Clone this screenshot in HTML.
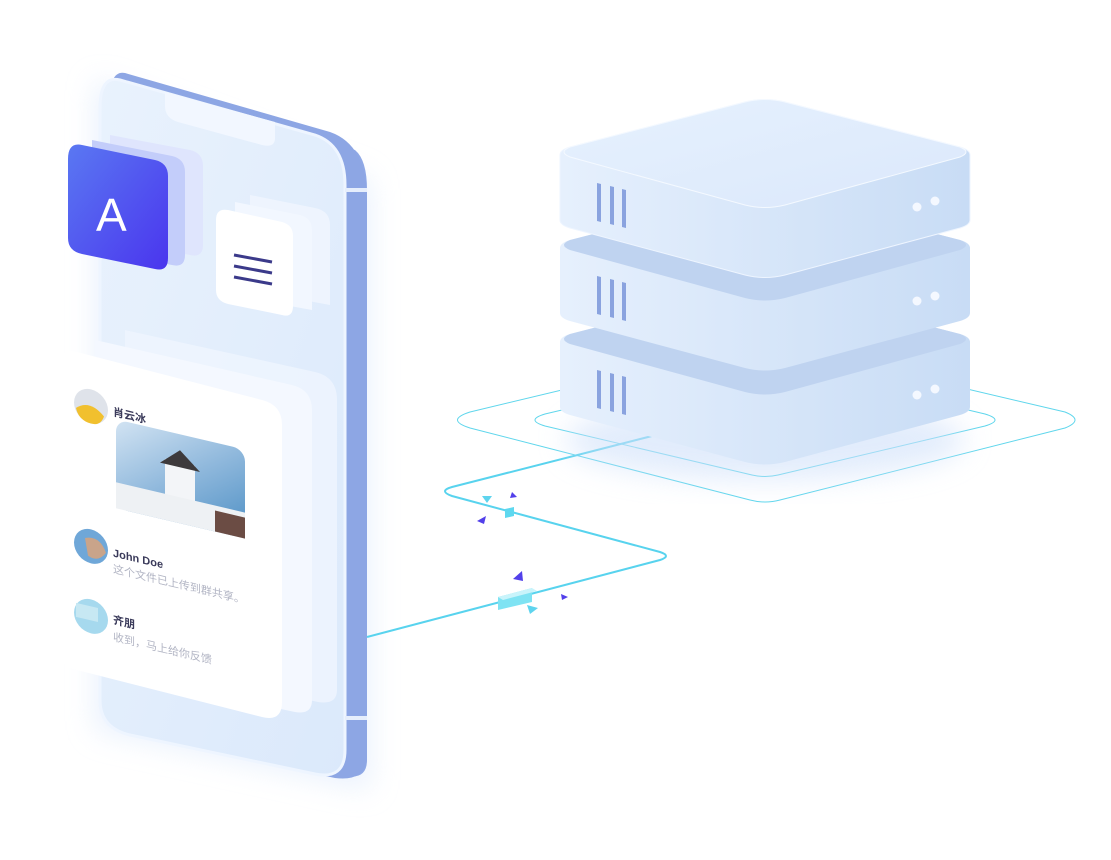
<!DOCTYPE html>
<html><head><meta charset="utf-8"><style>
html,body{margin:0;padding:0;background:#fff;width:1111px;height:860px;overflow:hidden}
svg{display:block}
text{font-family:"Liberation Sans","Noto Sans CJK SC",sans-serif}
</style></head><body>
<svg width="1111" height="860" viewBox="0 0 1111 860" xmlns="http://www.w3.org/2000/svg">
<defs>
<linearGradient id="face" x1="0" y1="0" x2="1" y2="1"><stop offset="0" stop-color="#e9f2fd"/><stop offset="1" stop-color="#dbe9fb"/></linearGradient>
<linearGradient id="A" x1="0" y1="0" x2="1" y2="1"><stop offset="0" stop-color="#5a78f2"/><stop offset="1" stop-color="#4a35ee"/></linearGradient>
<linearGradient id="front" x1="0" y1="0" x2="1" y2="0"><stop offset="0" stop-color="#e6f0fd"/><stop offset="1" stop-color="#c8dcf5"/></linearGradient>
<linearGradient id="top" x1="0" y1="0" x2="1" y2="1"><stop offset="0" stop-color="#e6f1fe"/><stop offset="1" stop-color="#dbe8fb"/></linearGradient>
<linearGradient id="pic" x1="0" y1="0" x2="1" y2="1"><stop offset="0" stop-color="#d3e4f3"/><stop offset="0.5" stop-color="#8fb8dc"/><stop offset="1" stop-color="#4d8fc4"/></linearGradient>
<filter id="blur" x="-30%" y="-30%" width="160%" height="160%"><feGaussianBlur stdDeviation="14"/></filter>
</defs>

<!-- phone glow -->
<path d="M95 80 L370 180 L370 790 L95 730 Z" fill="#dbe8fb" opacity="0.6" filter="url(#blur)"/>
<!-- phone body (side) -->
<path d="M130 75 Q118 72 122 85 L355 150 Q367 160 367 190 L367 760 Q367 780 345 776 L330 776 Z" fill="#8fa8e6"/>
<path d="M125 73 L330 132 Q367 145 367 200 L367 755 Q367 782 335 778 L130 735 Q110 730 110 700 L110 100 Q110 70 125 73 Z" fill="#8da6e4"/>
<!-- phone face -->
<path d="M120 80 L315 135 Q345 145 345 185 L345 750 Q345 780 315 774 L130 735 Q100 728 100 700 L100 108 Q100 75 120 80 Z" fill="url(#face)" stroke="#eef5ff" stroke-width="3"/>
<rect x="345" y="188" width="22" height="4" fill="#e6eefc"/>
<rect x="345" y="716" width="22" height="4" fill="#e6eefc"/>
<!-- notch -->
<path d="M165 92 L275 122 L275 138 Q275 148 262 145 L178 122 Q165 118 165 106 Z" fill="#f2f7ff"/>

<!-- A card layers -->
<path d="M110 135 L190 150 Q203 153 203 166 L203 245 Q203 258 190 255 L110 240 Z" fill="#dfe5fd"/>
<path d="M92 140 L172 156 Q185 159 185 172 L185 255 Q185 268 172 265 L92 250 Z" fill="#c3cdfa"/>
<path d="M82 145 L155 160 Q168 163 168 176 L168 258 Q168 272 155 269 L82 254 Q68 251 68 238 L68 159 Q68 142 82 145 Z" fill="url(#A)"/>
<text x="96" y="231" font-size="46" fill="#fff" transform="skewY(0)">A</text>

<!-- menu card layers -->
<path d="M250 195 L315 208 Q330 211 330 225 L330 305 L250 290 Z" fill="#eef4fe"/>
<path d="M235 202 L300 215 Q312 218 312 230 L312 310 L235 296 Z" fill="#f2f7ff"/>
<path d="M228 210 L282 222 Q293 225 293 236 L293 306 Q293 318 282 315 L228 304 Q216 301 216 290 L216 220 Q216 208 228 210 Z" fill="#fff"/>
<g stroke="#3b3a8a" stroke-width="3"><line x1="234" y1="255" x2="272" y2="262"/><line x1="234" y1="266" x2="272" y2="273"/><line x1="234" y1="277" x2="272" y2="284"/></g>

<!-- chat card layers -->
<path d="M125 330 L315 372 Q337 377 337 400 L337 690 Q337 705 318 702 L125 660 Z" fill="#edf4fe" opacity="0.9"/>
<path d="M95 340 L292 385 Q312 390 312 410 L312 700 Q312 715 295 712 L95 670 Z" fill="#f4f8ff"/>
<path d="M77 352 L262 400 Q282 405 282 425 L282 702 Q282 722 262 717 L77 670 Q57 665 57 645 L57 372 Q57 347 77 352 Z" fill="#fff"/>

<g transform="matrix(1 0.235 0 1 0 0)">
 <circle cx="91" cy="385" r="17" fill="#dfe3ea"/>
 <path d="M76 390 Q90 378 104 392 Q100 404 88 402 Q78 400 76 390Z" fill="#f1c02e"/>
 <text x="113" y="389" font-size="11" font-weight="bold" fill="#3a3a5a">肖云冰</text>
 <rect x="116" y="392" width="129" height="89" rx="12" fill="url(#pic)"/>
 <rect x="165" y="420" width="30" height="40" fill="#f3f5f8"/>
 <path d="M160 425 L180 408 L200 425 Z" fill="#3d3a3c"/>
 <rect x="116" y="455" width="129" height="26" fill="#eef1f4"/>
 <rect x="215" y="460" width="30" height="21" fill="#6b4c44"/>
 <circle cx="91" cy="525" r="17" fill="#6fa7d8"/>
 <path d="M85 518 Q100 512 106 528 Q98 540 88 535Z" fill="#c9a48a"/>
 <text x="113" y="530" font-size="11" font-weight="bold" fill="#3a3a5a">John Doe</text>
 <text x="113" y="546" font-size="11" fill="#b2b5c4">这个文件已上传到群共享。</text>
 <circle cx="91" cy="595" r="17" fill="#a6d9ee"/>
 <rect x="76" y="585" width="22" height="14" fill="#c7e8f3"/>
 <text x="113" y="597" font-size="11" font-weight="bold" fill="#3a3a5a">齐朋</text>
 <text x="113" y="614" font-size="11" fill="#b2b5c4">收到，马上给你反馈</text>
</g>

<!-- platform outlines -->
<g fill="none" stroke="#5fd6ec" stroke-width="1">
 <path d="M470 412 L750 345 Q765 341 780 345 L1065 412 Q1085 420 1065 428 L780 500 Q765 504 750 500 L470 428 Q445 420 470 412 Z"/>
 <path d="M545 414 L752 365 Q765 362 778 365 L985 414 Q1005 420 985 426 L778 475 Q765 478 752 475 L545 426 Q525 420 545 414 Z"/>
</g>

<!-- connection -->
<path d="M367 637 L660 560 Q672 556 660 552 L452 496 Q438 491 452 487 L652 436" fill="none" stroke="#58d3ee" stroke-width="2"/>
<polygon points="505,509 514,507 514,516 505,518" fill="#5ed8ef"/>
<polygon points="498,597 532,588 532,602 498,610" fill="#7fe3f3"/>
<polygon points="498,597 532,588 537,591 503,600" fill="#c9f4fb"/>
<g fill="#5240ea"><polygon points="512,492 517,497 510,498"/><polygon points="477,521 486,516 484,524"/><polygon points="513,579 522,571 523,581"/><polygon points="561,594 568,597 562,600"/></g>
<g fill="#5ed4ee"><polygon points="482,496 492,496 487,503"/><polygon points="527,605 538,608 530,614"/></g>

<!-- server shadow -->
<ellipse cx="765" cy="440" rx="200" ry="40" fill="#cfe0fa" opacity="0.6" filter="url(#blur)"/>

<!-- slabs bottom to top -->
<g id="s3" transform="translate(0,187)">
 <path d="M560 155 Q560 150 570 147 L745 102 Q765 97 785 102 L960 147 Q970 150 970 155 L970 220 Q970 225 960 228 L785 275 Q765 280 745 275 L570 228 Q560 225 560 220 Z" fill="url(#front)"/>
 <path d="M570 147 L745 102 Q765 97 785 102 L960 147 Q972 152 960 157 L785 205 Q765 210 745 205 L570 157 Q558 152 570 147 Z" fill="#bfd3f0"/>
</g>
<g transform="translate(0,93)">
 <path d="M560 155 Q560 150 570 147 L745 102 Q765 97 785 102 L960 147 Q970 150 970 155 L970 220 Q970 225 960 228 L785 275 Q765 280 745 275 L570 228 Q560 225 560 220 Z" fill="url(#front)"/>
 <path d="M570 147 L745 102 Q765 97 785 102 L960 147 Q972 152 960 157 L785 205 Q765 210 745 205 L570 157 Q558 152 570 147 Z" fill="#bfd3f0"/>
</g>
<g>
 <path d="M560 155 Q560 150 570 147 L745 102 Q765 97 785 102 L960 147 Q970 150 970 155 L970 220 Q970 225 960 228 L785 275 Q765 280 745 275 L570 228 Q560 225 560 220 Z" fill="url(#front)" stroke="#eef5ff" stroke-width="1"/>
 <path d="M570 147 L745 102 Q765 97 785 102 L960 147 Q972 152 960 157 L785 205 Q765 210 745 205 L570 157 Q558 152 570 147 Z" fill="url(#top)" stroke="#f4f9ff" stroke-width="1"/>
</g>
<!-- slots & dots -->
<g fill="#8aa3df">
 <polygon points="597,183 601,184 601,222 597,221"/><polygon points="610,186 614,187 614,225 610,224"/><polygon points="622,189 626,190 626,228 622,227"/>
 <polygon points="597,276 601,277 601,315 597,314"/><polygon points="610,279 614,280 614,318 610,317"/><polygon points="622,282 626,283 626,321 622,320"/>
 <polygon points="597,370 601,371 601,409 597,408"/><polygon points="610,373 614,374 614,412 610,411"/><polygon points="622,376 626,377 626,415 622,414"/>
</g>
<g fill="#f4f8ff">
 <circle cx="917" cy="207" r="4.5"/><circle cx="935" cy="201" r="4.5"/>
 <circle cx="917" cy="301" r="4.5"/><circle cx="935" cy="296" r="4.5"/>
 <circle cx="917" cy="395" r="4.5"/><circle cx="935" cy="389" r="4.5"/>
</g>
</svg>
</body></html>
